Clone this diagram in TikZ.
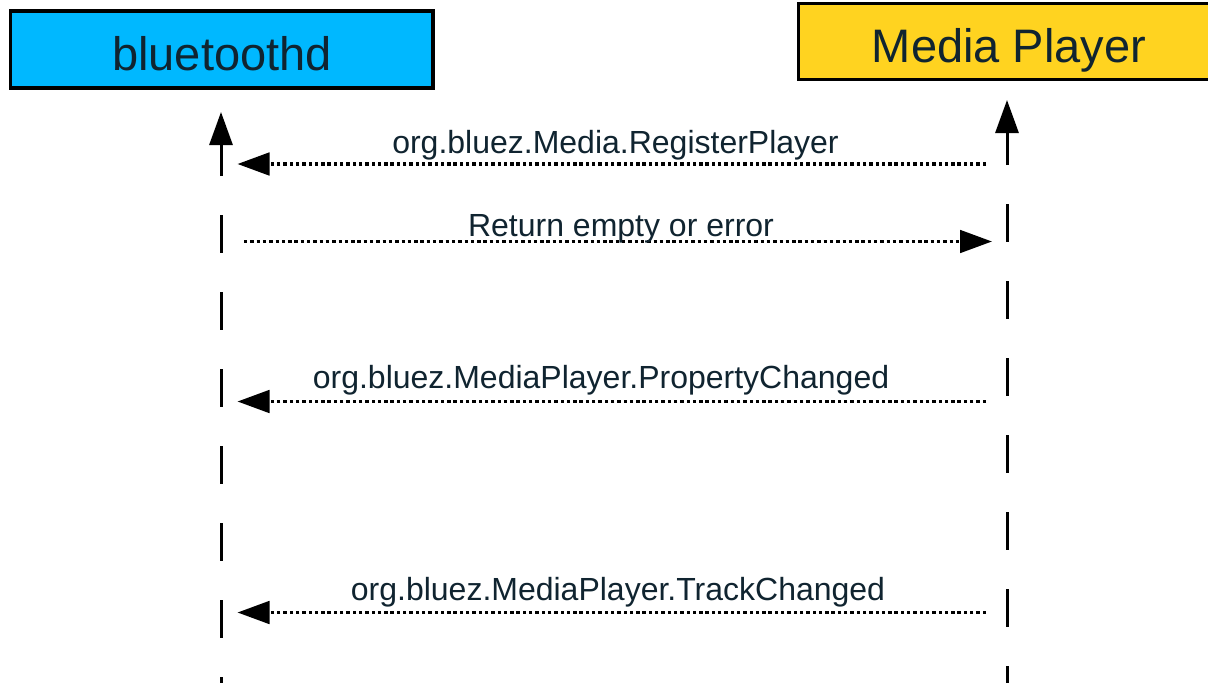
\documentclass[tikz,border=0pt]{standalone}
\usepackage{fontspec}
\setmainfont{Liberation Sans}
\usetikzlibrary{arrows.meta}
\definecolor{txt}{RGB}{16,36,48}
\definecolor{btblue}{RGB}{0,184,255}
\definecolor{mpyellow}{RGB}{255,211,32}
\tikzset{
  actorbox/.style={draw=black, line width=3.5pt, rectangle, inner sep=0pt},
  actortext/.style={text=txt, anchor=base, inner sep=0pt, font=\fontsize{47}{56}\selectfont},
  msgtext/.style={text=txt, anchor=base, inner sep=0pt, font=\fontsize{32}{38}\selectfont},
  lifearrow/.style={line width=3pt, -{Triangle[length=33pt,width=23pt]}},
  lifedash/.style={line width=3pt, dash pattern=on 37.5pt off 39.5pt},
  msg/.style={line width=3.4pt, dash pattern=on 3.4pt off 2.9pt, -{Triangle[length=32pt,width=22.5pt]}}
}
\begin{document}
\begin{tikzpicture}[x=1pt,y=-1pt]
\useasboundingbox (0,0) rectangle (1208,683);
\fill[white] (0,0) rectangle (1208,683);
\clip (0,0) rectangle (1208,683);
% actor boxes
\node[actorbox, fill=btblue, minimum width=422.5pt, minimum height=77pt] (btbox) at (221.75,49.5) {};
\node[actortext] (btlabel) at (222,70) {bluetoothd};
\node[actorbox, fill=mpyellow, minimum width=422pt, minimum height=76pt] (mpbox) at (1009.5,41.5) {};
\node[actortext] (mplabel) at (1009,62) {Media Player};
% lifelines
\coordinate (bttip) at (221,112);
\coordinate (btstem) at (221,176);
\coordinate (btdash) at (221,215);
\coordinate (btend) at (221,700);
\coordinate (mptip) at (1007,100);
\coordinate (mpstem) at (1007,165);
\coordinate (mpdash) at (1007,204);
\coordinate (mpend) at (1007,700);
\draw[lifearrow] (btstem) -- (bttip);
\draw[lifedash] (btdash) -- (btend);
\draw[lifearrow] (mpstem) -- (mptip);
\draw[lifedash] (mpdash) -- (mpend);
% messages
\coordinate (m1s) at (986,164);
\coordinate (m1e) at (237.5,164);
\coordinate (m2s) at (244,241.5);
\coordinate (m2e) at (992,241.5);
\coordinate (m3s) at (986,401.5);
\coordinate (m3e) at (237.5,401.5);
\coordinate (m4s) at (986,612.5);
\coordinate (m4e) at (237.5,612.5);
\draw[msg] (m1s) -- (m1e);
\draw[msg] (m2s) -- (m2e);
\draw[msg] (m3s) -- (m3e);
\draw[msg] (m4s) -- (m4e);
\node[msgtext] (l1) at (615.5,153) {org.bluez.Media.RegisterPlayer};
\node[msgtext] (l2) at (621,236.5) {Return empty or error};
\node[msgtext] (l3) at (601,388.5) {org.bluez.MediaPlayer.PropertyChanged};
\node[msgtext] (l4) at (618,600) {org.bluez.MediaPlayer.TrackChanged};
\end{tikzpicture}
\end{document}
